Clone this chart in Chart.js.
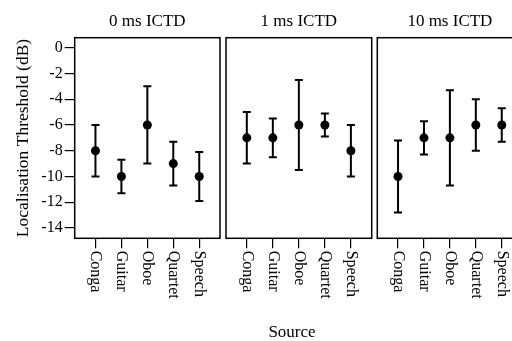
<!DOCTYPE html>
<html>
<head>
<meta charset="utf-8">
<script src="https://cdn.jsdelivr.net/npm/chart.js@4"></script>
<style>
  html, body { margin: 0; padding: 0; background: #fff; }
  #wrap { position: relative; width: 512px; height: 341px; overflow: hidden; }
  canvas { position: absolute; top: 0; }
  #src { position: absolute; top: 322px; left: 242px; width: 100px; text-align: center;
         font: 17px "Liberation Serif", serif; color: #000; }
</style>
</head>
<body>
<div id="wrap">
  <canvas id="p0" width="223" height="341" style="left:0px"></canvas>
  <canvas id="p1" width="152" height="341" style="left:223px"></canvas>
  <canvas id="p2" width="152" height="341" style="left:375px"></canvas>
  <div id="src">Source</div>
</div>
<script>
const sources = ["Conga", "Guitar", "Oboe", "Quartet", "Speech"];
const panelTitles = ["0 ms ICTD", "1 ms ICTD", "10 ms ICTD"];
const yTicks = [0, -2, -4, -6, -8, -10, -12, -14];

// mean and error-bar ends per panel
const mean0 = [-8, -10, -6, -9, -10];
const lower0 = [-10, -11.3, -9, -10.7, -11.9];
const upper0 = [-6, -8.7, -3, -7.3, -8.1];

const mean1 = [-7, -7, -6, -6, -8];
const lower1 = [-9, -8.5, -9.5, -6.9, -10];
const upper1 = [-5, -5.5, -2.5, -5.1, -6];

const mean10 = [-10, -7, -7, -6, -6];
const lower10 = [-12.8, -8.3, -10.7, -8, -7.3];
const upper10 = [-7.2, -5.7, -3.3, -4, -4.7];

const FONT = '"Liberation Serif", serif';

// box round the plot area + clockwise source labels
const panelDeco = {
  id: "panelDeco",
  afterDraw(chart) {
    const ctx = chart.ctx;
    const a = chart.chartArea;
    const xs = chart.scales.x;
    ctx.save();
    ctx.strokeStyle = "#000";
    ctx.lineWidth = 1.5;
    ctx.strokeRect(a.left, a.top, a.right - a.left, a.bottom - a.top);
    ctx.fillStyle = "#000";
    ctx.font = "16px " + FONT;
    ctx.textAlign = "left";
    ctx.textBaseline = "middle";
    sources.forEach((s, i) => {
      ctx.save();
      ctx.translate(xs.getPixelForValue(i), xs.top + 12.4);
      ctx.rotate(Math.PI / 2);
      ctx.fillText(s, 0, 0);
      ctx.restore();
    });
    ctx.restore();
  }
};

function makePanel(id, title, mean, lower, upper, first, padL, padR) {
  const datasets = [{
    type: "scatter",
    data: mean.map((v, i) => ({ x: i, y: v })),
    pointRadius: 4.5,
    pointBackgroundColor: "#000",
    pointBorderWidth: 0,
    order: 0
  }];
  sources.forEach((s, i) => {
    datasets.push({
      type: "line",
      data: [{ x: i, y: lower[i] }, { x: i, y: upper[i] }],
      borderColor: "#000",
      borderWidth: 2,
      pointStyle: "line",
      pointRadius: 4,
      pointBorderColor: "#000",
      pointBorderWidth: 2,
      order: 1
    });
  });

  new Chart(id, {
    type: "scatter",
    data: { datasets: datasets },
    options: {
      responsive: false,
      animation: false,
      layout: { autoPadding: false, padding: { left: padL, right: padR, top: 0, bottom: 0 } },
      plugins: {
        legend: { display: false },
        tooltip: { enabled: false },
        title: {
          display: true,
          fullSize: false,
          text: title,
          color: "#000",
          font: { family: FONT, size: 17, weight: "normal" },
          padding: { top: 11.5, bottom: 5.8 }
        }
      },
      scales: {
        x: {
          type: "linear",
          min: -0.8,
          max: 4.8,
          afterBuildTicks: s => { s.ticks = sources.map((c, i) => ({ value: i })); },
          afterFit: s => { s.height = 102.7; },
          ticks: { display: false },
          grid: { drawOnChartArea: false, drawTicks: true, tickLength: 10, color: "#000", lineWidth: 1.2 },
          border: { display: false }
        },
        y: {
          display: first,
          min: -14.8,
          max: 0.78,
          afterBuildTicks: s => { s.ticks = yTicks.map(v => ({ value: v })); },
          afterFit: s => { if (first) s.width = 74.7; },
          ticks: {
            color: "#000",
            padding: 2,
            font: { family: FONT, size: 16 },
            callback: v => String(v)
          },
          grid: { drawOnChartArea: false, drawTicks: true, tickLength: 10, color: "#000", lineWidth: 1.2 },
          border: { display: false },
          title: {
            display: first,
            text: "Localisation Threshold (dB)",
            color: "#000",
            font: { family: FONT, size: 17.5 },
            padding: { top: 13, bottom: 0 }
          }
        }
      }
    },
    plugins: [panelDeco]
  });
}

makePanel("p0", panelTitles[0], mean0, lower0, upper0, true, 0, 3);
makePanel("p1", panelTitles[1], mean1, lower1, upper1, false, 3, 3.3);
makePanel("p2", panelTitles[2], mean10, lower10, upper10, false, 2.3, 4.5);
</script>
</body>
</html>
